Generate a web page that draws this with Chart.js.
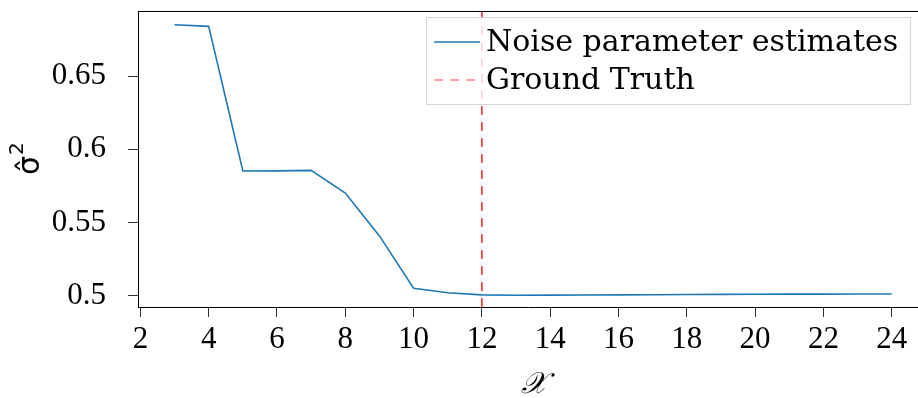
<!DOCTYPE html>
<html>
<head>
<meta charset="utf-8">
<script src="https://cdn.jsdelivr.net/npm/chart.js@4.4.0/dist/chart.umd.min.js"></script>
<style>
  html, body { margin: 0; padding: 0; background: #fff; }
  #chart { display: block; }
</style>
</head>
<body>
<canvas id="chart" width="918" height="398"></canvas>
<script>
// number of components tried and the fitted noise variance
const componentCounts = [3, 4, 5, 6, 7, 8, 9, 10, 11, 12, 13, 14, 15, 16, 17, 18, 19, 20, 21, 22, 23, 24];
const noiseEstimates = [0.6852, 0.6841, 0.5852, 0.5853, 0.5856, 0.5701, 0.5408, 0.5050, 0.5019, 0.5005, 0.5002,
                        0.5003, 0.5004, 0.5005, 0.5006, 0.5007, 0.5008, 0.5009, 0.5010, 0.5010, 0.5011, 0.5011];
const groundTruth = 12;

const xTicks = [2, 4, 6, 8, 10, 12, 14, 16, 18, 20, 22, 24];
const yTicks = [0.5, 0.55, 0.6, 0.65];
const yTickLabels = ['0.5', '0.55', '0.6', '0.65'];

const xRange = [1.93, 24.77];
const yRange = [0.4922, 0.6946];

const serif = '"Liberation Serif", "Times New Roman", serif';
const legendFont = '"DejaVu Serif", serif';

// top spine, framed legend and the two axis titles
const framePlugin = {
    id: 'frame',
    afterDatasetsDraw(chart) {
        const { ctx, chartArea } = chart;
        ctx.save();
        ctx.strokeStyle = '#000';
        ctx.lineWidth = 1;
        ctx.beginPath();
        ctx.moveTo(chartArea.left, chartArea.top + 0.5);
        ctx.lineTo(chartArea.right, chartArea.top + 0.5);
        ctx.stroke();

        const box = { x: 426.5, y: 17.5, w: 484, h: 87 };
        ctx.fillStyle = 'rgba(255,255,255,0.8)';
        ctx.fillRect(box.x, box.y, box.w, box.h);
        ctx.strokeStyle = '#d6d6d6';
        ctx.strokeRect(box.x, box.y, box.w, box.h);

        ctx.font = '30px ' + legendFont;
        ctx.textBaseline = 'alphabetic';
        ctx.fillStyle = '#000';
        chart.data.datasets.forEach((ds, i) => {
            const cy = 42 + i * 38;
            ctx.strokeStyle = ds.legendColor || ds.borderColor;
            ctx.lineWidth = 1.5;
            ctx.setLineDash(ds.borderDash || []);
            ctx.beginPath();
            ctx.moveTo(434, cy);
            ctx.lineTo(480, cy);
            ctx.stroke();
            ctx.setLineDash([]);
            ctx.fillText(ds.label, 486, cy + 9);
        });

        ctx.fillStyle = '#000';
        ctx.textAlign = 'center';
        ctx.font = 'italic 30px ' + serif;
        ctx.fillText('𝒳', 534, 393);

        // sigma-hat with a raised 2, reading upwards
        ctx.translate(31, 160);
        ctx.rotate(-Math.PI / 2);
        ctx.textAlign = 'left';
        ctx.textBaseline = 'middle';
        ctx.font = '30px "DejaVu Sans", sans-serif';
        const sigma = 'σ\u0302';
        const start = -15;
        ctx.fillText(sigma, start, 0);
        const w = ctx.measureText(sigma).width;
        ctx.font = '20px "DejaVu Sans", sans-serif';
        ctx.fillText('2', start + w + 1, -13);
        ctx.restore();
    }
};

new Chart(document.getElementById('chart'), {
    type: 'line',
    data: {
        datasets: [
            {
                label: 'Noise parameter estimates',
                data: componentCounts.map((k, i) => ({ x: k, y: noiseEstimates[i] })),
                borderColor: '#1f77b4',
                borderWidth: 1.6,
                pointRadius: 0,
                tension: 0
            },
            {
                label: 'Ground Truth',
                data: [{ x: groundTruth, y: yRange[0] }, { x: groundTruth, y: yRange[1] }],
                borderColor: '#e8141c',
                legendColor: 'rgba(240,70,70,0.65)',
                borderWidth: 1.4,
                borderDash: [9, 7],
                pointRadius: 0
            }
        ]
    },
    options: {
        responsive: false,
        animation: false,
        layout: { padding: { top: 11, right: 0, left: 0, bottom: 0 } },
        plugins: { legend: { display: false }, tooltip: { enabled: false } },
        scales: {
            x: {
                type: 'linear',
                min: xRange[0],
                max: xRange[1],
                afterBuildTicks: axis => { axis.ticks = xTicks.map(v => ({ value: v })); },
                afterFit: axis => {
                    axis.height = 91;
                    axis.paddingLeft = 0;
                    axis.paddingRight = 0;
                },
                grid: { drawOnChartArea: false, drawTicks: true, tickLength: 10, color: '#333' },
                border: { display: true, color: '#000', width: 1 },
                ticks: {
                    color: '#000',
                    padding: 4,
                    maxRotation: 0,
                    font: { family: serif, size: 31 },
                    callback: v => String(v)
                }
            },
            y: {
                type: 'linear',
                min: yRange[0],
                max: yRange[1],
                afterBuildTicks: axis => { axis.ticks = yTicks.map(v => ({ value: v })); },
                afterFit: axis => {
                    axis.width = 138;
                    axis.paddingTop = 0;
                    axis.paddingBottom = 0;
                },
                grid: { drawOnChartArea: false, drawTicks: true, tickLength: 10, color: '#333' },
                border: { display: true, color: '#000', width: 1 },
                ticks: {
                    color: '#000',
                    padding: 22,
                    font: { family: serif, size: 31 },
                    callback: (v, i) => yTickLabels[i]
                }
            }
        }
    },
    plugins: [framePlugin]
});
</script>
</body>
</html>
